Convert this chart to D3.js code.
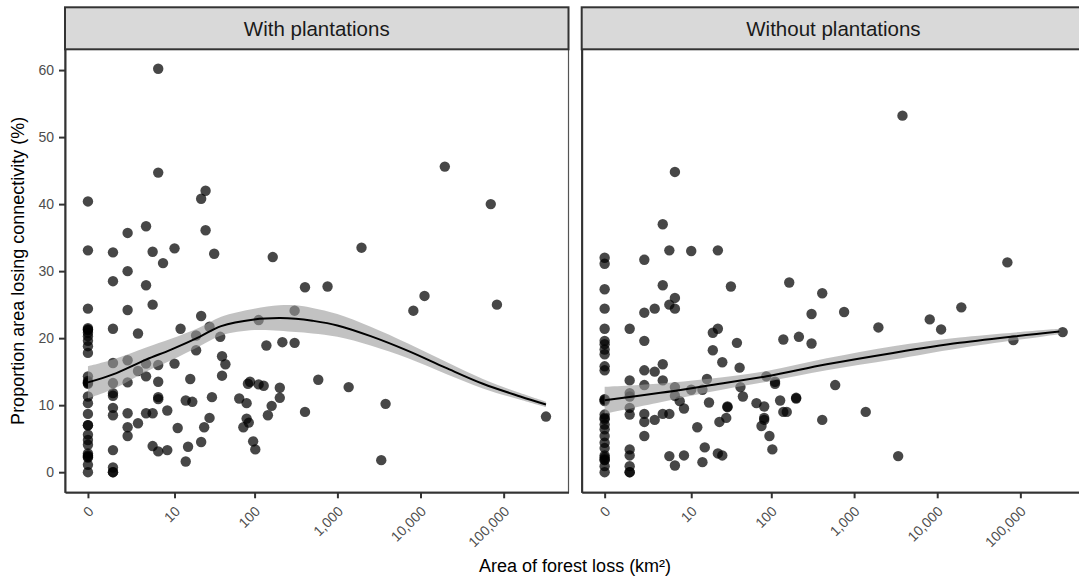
<!DOCTYPE html>
<html>
<head>
<meta charset="utf-8">
<script src="https://cdn.jsdelivr.net/npm/d3@7"></script>
<style>
  body { margin: 0; background: #fff; }
  svg { display: block; font-family: "Liberation Sans", Arial, sans-serif; }
</style>
</head>
<body>
<svg id="chart" width="1079" height="581"></svg>
<script>
// facet titles
const facets = ["With plantations", "Without plantations"]

// area of forest loss (km2) and proportion losing connectivity (%), with plantations
const withArea = [
  0, 0, 0, 0, 0, 0, 0, 0, 0, 0, 0, 0, 0, 0, 0, 0, 0, 0, 0, 0, 0, 0, 0, 0, 0, 0, 0, 0, 0, 0,
  1, 1, 1, 1, 1, 1, 1, 1, 1, 1, 1, 1, 1,
  2, 2, 2, 2, 2, 2, 2, 2,
  3, 3, 3,
  4, 4, 4, 4, 4,
  5, 5, 5, 5,
  6, 6, 6, 6, 6, 6, 6,
  7, 8, 8, 10, 10, 11, 12, 14, 14, 15, 16, 17, 19, 19, 22, 22, 22, 24, 25, 25, 28, 28, 30, 32, 38, 40, 40, 44,
  65, 73, 80, 80, 83, 85, 88, 96, 102, 112, 112, 129, 139, 145, 161, 166, 202, 202, 217, 305, 305, 407, 407, 588, 761,
  1366, 1950, 3370, 3800, 8200, 11170, 19600, 70000, 83000, 323000
]
const withProp = [
  40.4, 33.1, 24.4, 21.5, 21.3, 21.2, 20.8, 20.3, 19.6, 18.8, 17.8, 14.3, 13.6, 13.4, 13.3, 13.2, 11.3, 10.3, 8.7, 7.0, 7.0, 5.6, 4.8, 4.1, 2.8, 2.5, 2.3, 2.2, 1.1, 0.0,
  32.8, 28.5, 21.4, 16.3, 13.3, 11.8, 11.4, 9.6, 8.5, 3.3, 0.7, 0.0, 0.0,
  35.7, 30.0, 24.2, 16.7, 13.4, 8.8, 6.7, 5.4,
  20.7, 15.1, 7.3,
  36.7, 27.9, 16.2, 14.3, 8.8,
  32.9, 25.0, 8.8, 3.9,
  60.2, 44.7, 16.0, 13.5, 11.2, 10.9, 3.1,
  31.2, 9.2, 3.3, 33.4, 16.2, 6.6, 21.4, 10.7, 1.6, 3.8, 13.9, 10.5, 20.4, 18.2, 40.8, 23.3, 4.5, 6.7, 42.0, 36.1, 21.7, 8.1, 11.2, 32.6, 20.2, 17.3, 14.4, 16.1,
  11.0, 6.7, 10.3, 8.0, 13.2, 7.4, 13.5, 4.6, 3.4, 22.7, 13.1, 12.9, 18.9, 8.5, 9.9, 32.1, 12.6, 11.1, 19.4, 24.1, 19.3, 27.6, 9.0, 13.8, 27.7,
  12.7, 33.5, 1.8, 10.2, 24.1, 26.3, 45.6, 40.0, 25.0, 8.3
]

// same, without plantations
const withoutArea = [
  0, 0, 0, 0, 0, 0, 0, 0, 0, 0, 0, 0, 0, 0, 0, 0, 0, 0, 0, 0, 0, 0, 0, 0, 0, 0, 0, 0,
  1, 1, 1, 1, 1, 1, 1, 1, 1, 1, 1,
  2, 2, 2, 2, 2, 2, 2, 2,
  3, 3, 3,
  4, 4, 4, 4, 4,
  5, 5, 5, 5,
  6, 6, 6, 6, 6, 6,
  7, 8, 8, 10, 10, 12, 14, 14, 15, 16, 17, 19, 19, 22, 22, 22, 23, 25, 25, 28, 29, 29, 32, 38, 41, 42, 45,
  66, 76, 82, 82, 82, 87, 95, 103, 111, 111, 128, 140, 140, 154, 165, 200, 200, 216, 307, 307, 413, 413, 592, 758,
  1380, 1960, 3390, 3820, 8130, 11140, 19500, 69800, 82400, 323000
]
const withoutProp = [
  32.0, 31.1, 27.3, 24.4, 21.4, 19.6, 19.1, 18.3, 17.6, 15.8, 15.2, 10.9, 10.8, 10.6, 8.6, 8.1, 7.9, 7.1, 6.4, 5.4, 4.4, 3.6, 2.5, 2.2, 1.9, 1.8, 0.9, 0.0,
  21.4, 13.7, 11.8, 11.3, 9.6, 8.6, 3.4, 2.5, 0.9, 0.0, 0.0,
  31.7, 23.8, 19.6, 15.2, 13.0, 8.7, 7.5, 5.4,
  24.4, 15.0, 7.8,
  37.0, 27.9, 16.1, 13.7, 8.7,
  33.1, 25.0, 8.7, 2.4,
  44.8, 26.0, 24.4, 12.7, 11.4, 1.0,
  10.6, 9.5, 2.5, 33.0, 12.3, 6.7, 12.3, 1.5, 3.7, 13.9, 10.4, 20.8, 18.2, 33.1, 21.4, 2.8, 7.5, 16.4, 2.5, 8.1, 9.8, 9.7, 27.7, 19.3, 15.6, 12.7, 11.3,
  10.3, 6.9, 9.8, 8.1, 7.8, 14.3, 5.4, 3.4, 13.5, 13.2, 10.7, 19.8, 9.0, 9.0, 28.3, 11.1, 11.0, 20.2, 23.6, 19.2, 26.7, 7.8, 13.0, 23.9,
  9.0, 21.6, 2.4, 53.2, 22.8, 21.3, 24.6, 31.3, 19.7, 20.9
]

// smoothed fits (mean and half width of the confidence band)
const withFitArea = [0, 1, 4, 9, 21, 39, 99, 199, 315, 500, 999, 2510, 7080, 19950, 56230, 158490, 323000]
const withFitMean = [13.4, 14.6, 16.8, 18.3, 20.2, 21.8, 22.8, 23.0, 22.9, 22.6, 21.9, 20.3, 18.1, 15.6, 13.2, 11.3, 10.1]
const withFitBand = [2.4, 2.2, 1.8, 1.6, 1.4, 1.4, 1.6, 1.9, 2.0, 1.9, 1.7, 1.4, 1.1, 0.9, 0.7, 0.5, 0.4]

const withoutFitArea = [0, 3.7, 16, 88, 467, 2950, 18600, 295000]
const withoutFitMean = [10.75, 11.85, 12.9, 14.3, 16.1, 17.8, 19.3, 21.0]
const withoutFitBand = [2.0, 1.4, 1.0, 0.8, 0.9, 1.0, 0.8, 0.4]

const xTicks = [0, 10, 100, 1000, 10000, 100000]
const yTicks = [0, 10, 20, 30, 40, 50, 60]

const panels = [
  {area: withArea, prop: withProp, fitArea: withFitArea, fitMean: withFitMean, fitBand: withFitBand},
  {area: withoutArea, prop: withoutProp, fitArea: withoutFitArea, fitMean: withoutFitMean, fitBand: withoutFitBand}
]

const panelLeft = [65, 581.7]
const panelTop = 49.3
const panelW = 503.5
const panelH = 443
const stripTop = 7.3

const svg = d3.select("#chart")

// log10(x + 1) style scale
const x = d3.scaleSymlog().constant(1)
    .domain([-0.888, 602500])
    .range([0, panelW])

const y = d3.scaleLinear()
    .domain([-3.0, 63.1])
    .range([panelH, 0])

const line = d3.line()
    .x(d => x(d[0]))
    .y(d => y(d[1]))
    .curve(d3.curveCatmullRom)

const band = d3.area()
    .x(d => x(d[0]))
    .y0(d => y(d[1] - d[2]))
    .y1(d => y(d[1] + d[2]))
    .curve(d3.curveCatmullRom)

panels.forEach((p, i) => {
    const g = svg.append("g")
        .attr("transform", "translate(" + panelLeft[i] + "," + panelTop + ")")

    // strip
    svg.append("rect")
        .attr("x", panelLeft[i])
        .attr("y", stripTop)
        .attr("width", panelW)
        .attr("height", panelTop - stripTop)
        .attr("fill", "#d9d9d9")
        .attr("stroke", "#333")
        .attr("stroke-width", 2)
    svg.append("text")
        .attr("x", panelLeft[i] + panelW / 2)
        .attr("y", 36)
        .attr("text-anchor", "middle")
        .attr("fill", "#1a1a1a")
        .style("font-size", "20.5px")
        .text(facets[i])

    // panel border
    g.append("rect")
        .attr("width", panelW)
        .attr("height", panelH)
        .attr("fill", "none")
        .attr("stroke", "#555")
        .attr("stroke-width", 1.2)

    // points
    g.append("g").selectAll("circle")
        .data(p.area.map((a, k) => [a, p.prop[k]]))
        .join("circle")
        .attr("cx", d => x(d[0]))
        .attr("cy", d => y(d[1]))
        .attr("r", 5.2)
        .attr("fill", "#000")
        .attr("fill-opacity", 0.72)

    const fit = p.fitArea.map((a, k) => [a, p.fitMean[k], p.fitBand[k]])

    g.append("path")
        .datum(fit)
        .attr("d", band)
        .attr("fill", "#999")
        .attr("fill-opacity", 0.6)

    g.append("path")
        .datum(fit)
        .attr("d", line)
        .attr("fill", "none")
        .attr("stroke", "#000")
        .attr("stroke-width", 2)

    // x axis
    const xa = g.append("g")
        .attr("transform", "translate(0," + panelH + ")")
        .call(d3.axisBottom(x).tickValues(xTicks).tickFormat(d3.format(",")).tickSize(6).tickSizeOuter(0))
    xa.select(".domain").attr("stroke", "#333").attr("stroke-width", 2)
    xa.selectAll(".tick line").attr("stroke", "#333").attr("stroke-width", 2)
    xa.selectAll(".tick text")
        .attr("x", 0).attr("y", 0).attr("dy", 0)
        .attr("text-anchor", "end")
        .attr("transform", "translate(6,20) rotate(-45)")
        .attr("fill", "#4d4d4d")
        .style("font-size", "14px")
        .style("font-family", "Liberation Sans, Arial, sans-serif")

    // y axis line on each panel, ticks only on the first
    const ya = g.append("g")
        .call(d3.axisLeft(y).tickValues(i === 0 ? yTicks : []).tickSize(6).tickPadding(5).tickSizeOuter(0))
    ya.select(".domain").attr("stroke", "#333").attr("stroke-width", 2)
    ya.selectAll(".tick line").attr("stroke", "#333").attr("stroke-width", 2)
    ya.selectAll(".tick text")
        .attr("fill", "#4d4d4d")
        .style("font-size", "14px")
        .style("font-family", "Liberation Sans, Arial, sans-serif")
})

// axis titles
svg.append("text")
    .attr("x", (panelLeft[0] + panelLeft[1] + panelW) / 2)
    .attr("y", 571.5)
    .attr("text-anchor", "middle")
    .attr("fill", "#000")
    .style("font-size", "18px")
    .text("Area of forest loss (km²)")

svg.append("text")
    .attr("transform", "translate(24," + (panelTop + panelH / 2) + ") rotate(-90)")
    .attr("text-anchor", "middle")
    .attr("fill", "#000")
    .style("font-size", "18px")
    .text("Proportion area losing connectivity (%)")
</script>
</body>
</html>
